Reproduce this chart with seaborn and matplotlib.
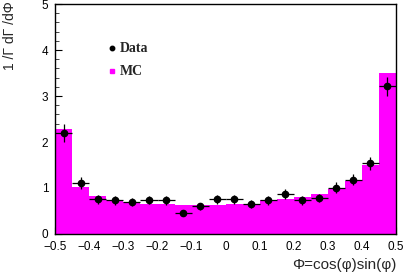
import numpy as np
import pandas as pd
import matplotlib
matplotlib.use("Agg")
import matplotlib.pyplot as plt
import seaborn as sns
from matplotlib.ticker import MultipleLocator

# Bin edges and values
bin_edges = [round(-0.5 + 0.05 * i, 2) for i in range(21)]
bin_centers = [round(-0.475 + 0.05 * i, 3) for i in range(20)]
mc_values = [2.28, 1.03, 0.82, 0.74, 0.70, 0.65, 0.65, 0.63, 0.63, 0.64,
             0.65, 0.66, 0.73, 0.76, 0.80, 0.87, 0.98, 1.16, 1.49, 3.50]
data_values = [2.20, 1.10, 0.75, 0.73, 0.70, 0.74, 0.73, 0.45, 0.60, 0.75,
               0.75, 0.65, 0.73, 0.87, 0.73, 0.78, 1.01, 1.18, 1.54, 3.21]
data_errors = [0.20, 0.13, 0.09, 0.09, 0.09, 0.09, 0.09, 0.07, 0.08, 0.09,
               0.09, 0.08, 0.09, 0.10, 0.09, 0.09, 0.11, 0.12, 0.14, 0.20]
x_ticks = [-0.5, -0.4, -0.3, -0.2, -0.1, 0, 0.1, 0.2, 0.3, 0.4, 0.5]
x_tick_labels = ["−0.5", "−0.4", "−0.3", "−0.2", "−0.1", "0", "0.1", "0.2", "0.3", "0.4", "0.5"]
y_ticks = [0, 1, 2, 3, 4, 5]

sns.set_style("white")
plt.rcParams['font.family'] = ['Liberation Sans', 'DejaVu Sans']

fig = plt.figure(figsize=(4.04, 2.73), dpi=100)
ax = fig.add_axes([0.137, 0.143, 0.843, 0.842])

df = pd.DataFrame({"x": bin_centers, "w": mc_values})
sns.histplot(data=df, x="x", weights="w", bins=bin_edges, element="step",
             fill=True, color="#ff00ff", alpha=1.0, linewidth=0, ax=ax)

ax.errorbar(bin_centers, data_values, xerr=0.025, yerr=data_errors,
            fmt="o", color="black", markersize=4.5, elinewidth=0.9,
            capsize=0, zorder=5)

ax.set_xlim(-0.5, 0.5)
ax.set_ylim(0, 5)
ax.set_xticks(x_ticks)
ax.set_xticklabels(x_tick_labels)
ax.set_yticks(y_ticks)
ax.xaxis.set_minor_locator(MultipleLocator(0.02))
ax.yaxis.set_minor_locator(MultipleLocator(0.2))
ax.tick_params(axis="x", which="major", direction="in", length=5, width=0.8,
               labelsize=8.5, colors="black", pad=5, bottom=True)
ax.tick_params(axis="y", which="major", direction="in", length=5, width=0.8,
               labelsize=8.5, colors="black", pad=5, left=True)
ax.tick_params(axis="both", which="minor", direction="in", length=2.8, width=0.6,
               bottom=True, left=True)
ax.set_xlabel("")
ax.set_ylabel("")
for s in ax.spines.values():
    s.set_visible(True)
    s.set_color("black")
    s.set_linewidth(1.0)

# Axis titles
fig.text(0.025, 0.995, "1 /Γ dΓ /dΦ", rotation=90, ha="center", va="top", fontsize=10)
fig.text(0.982, 0.005, "Φ=cos(φ)sin(φ)", ha="right", va="bottom", fontsize=11)

# Legend
ax.plot([-0.335], [4.04], "o", color="black", markersize=3.2)
ax.text(-0.312, 4.04, "Data", fontsize=10, fontweight="bold", family="Liberation Serif",
        va="center", ha="left")
ax.plot([-0.335], [3.54], "s", color="#ff00ff", markersize=3.2)
ax.text(-0.312, 3.54, "MC", fontsize=10, fontweight="bold", family="Liberation Serif",
        va="center", ha="left")

fig.savefig("out.png", dpi=100)
